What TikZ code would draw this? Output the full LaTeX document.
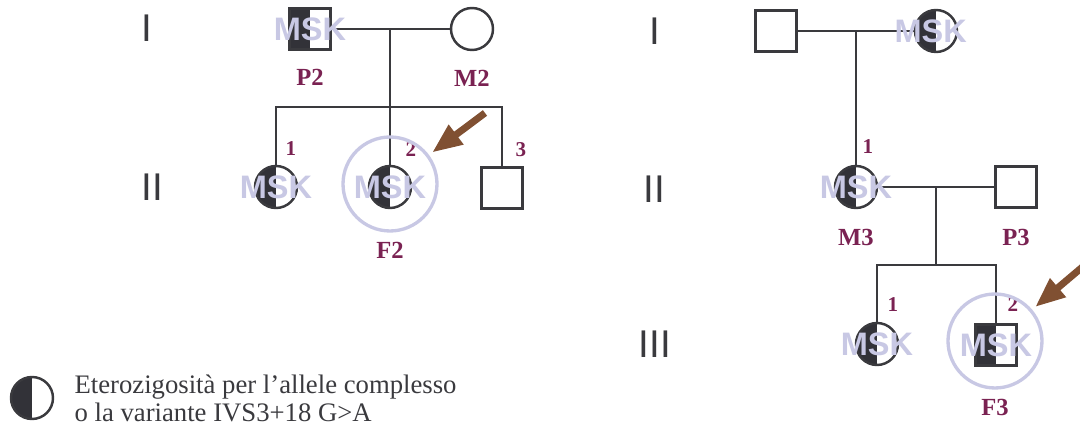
\documentclass[tikz,border=0pt]{standalone}
\usepackage{fontspec}
\setmainfont{Liberation Serif}
\setsansfont{Liberation Sans}
\usepackage{tikz}
\usetikzlibrary{
  arrows.meta,
  positioning
}
\definecolor{LineGray}{RGB}{58,58,62}
\definecolor{HalfDark}{RGB}{50,50,56}
\definecolor{TagPurple}{RGB}{122,34,82}
\definecolor{MarkLilac}{RGB}{200,200,228}
\definecolor{PointBrown}{RGB}{128,80,50}
\tikzset{
  male/.style={draw=LineGray,fill=white,line width=1.4pt,minimum size=0.82cm,inner sep=0pt},
  female/.style={circle,draw=LineGray,fill=white,line width=1.4pt,minimum size=0.84cm,inner sep=0pt},
  carrier/.style={path picture={\fill[HalfDark] (path picture bounding box.south west) rectangle (path picture bounding box.north);}},
  wmark/.style={text=MarkLilac,font=\sffamily\bfseries\fontsize{18.5}{18.5}\selectfont,inner sep=0pt},
  gen/.style={text=LineGray,font=\sffamily\fontsize{22}{22}\selectfont,inner sep=0pt},
  tag/.style={text=TagPurple,font=\bfseries\fontsize{14}{14}\selectfont,inner sep=0pt},
  idx/.style={text=TagPurple,font=\bfseries\fontsize{12}{12}\selectfont,inner sep=0pt},
  ring/.style={circle,draw=MarkLilac,line width=1.9pt,minimum size=1.88cm,inner sep=0pt},
  link/.style={draw=LineGray,line width=1.4pt},
  pointer/.style={draw=PointBrown,line width=0.14cm,-{Triangle[length=0.6cm,width=0.46cm]},shorten >=0.08cm},
  keytext/.style={text=LineGray,font=\fontsize{15.2}{16}\selectfont,align=left,inner sep=0pt}
}
\begin{document}
\begin{tikzpicture}[x=0.02cm,y=-0.02cm]
\clip (0,0) rectangle (1080,425);

% family 2
\node[gen] (g2i) at (147,28) {I};
\node[gen] (g2ii) at (152,187) {II};
\coordinate (fam2) at (390,29);
\coordinate (sib2) at (390,107);
\node[male,carrier] (p2) at (310,29) {};
\node[female] (m2) at (472,29) {};
\node[female,carrier] (ii1) at (276,187) {};
\node[female,carrier] (ii2) at (390,187) {};
\node[male] (ii3) at (502,188) {};
\draw[link] (p2) -- (m2);
\draw[link] (fam2) -- (ii2.north);
\draw[link] (ii1.north) |- (sib2) -| (ii3.north);
\node[wmark] (p2w) at (p2) {MSK};
\node[wmark] (ii1w) at (ii1) {MSK};
\node[wmark] (ii2w) at (ii2) {MSK};
\node[tag, below=3.7mm of p2] (p2t) {P2};
\node[tag, below=3.7mm of m2] (m2t) {M2};
\node[idx] (ii1n) at ([shift={(15,-38)}]ii1) {1};
\node[idx] (ii2n) at ([shift={(21,-37)}]ii2) {2};
\node[idx] (ii3n) at ([shift={(19,-38)}]ii3) {3};
\node[ring] (ring2) at (390,184) {};
\node[tag, below=1.8mm of ring2] (f2t) {F2};
\coordinate (tail2) at (485,113);
\draw[pointer] (tail2) -- (ring2);

% family 3
\node[gen] (g3i) at (655,31) {I};
\node[gen] (g3ii) at (654,189) {II};
\node[gen] (g3iii) at (655,344) {III};
\coordinate (fam1) at (856,31);
\coordinate (fam3) at (936,187);
\coordinate (sib3) at (936,265);
\node[male] (i1) at (776,31) {};
\node[female,carrier] (i2) at (936,31) {};
\node[female,carrier] (m3) at (856,187) {};
\node[male] (p3) at (1016,187) {};
\node[female,carrier] (iii1) at (877,344) {};
\node[male,carrier] (iii2) at (996,345) {};
\draw[link] (i1) -- (i2);
\draw[link] (fam1) -- (m3.north);
\draw[link] (m3) -- (p3);
\draw[link] (fam3) -- (sib3);
\draw[link] (iii1.north) |- (sib3) -| (iii2.north);
\node[wmark] (i2w) at ([xshift=-3]i2) {MSK};
\node[wmark] (m3w) at (m3) {MSK};
\node[wmark] (iii1w) at (iii1) {MSK};
\node[wmark] (iii2w) at (iii2) {MSK};
\node[tag, below=4mm of m3] (m3t) {M3};
\node[tag, below=4mm of p3] (p3t) {P3};
\node[idx] (m3n) at ([shift={(12,-40)}]m3) {1};
\node[idx] (iii1n) at ([shift={(16,-39)}]iii1) {1};
\node[idx] (iii2n) at ([shift={(17,-40)}]iii2) {2};
\node[ring] (ring3) at (995,341) {};
\node[tag, below=1.9mm of ring3] (f3t) {F3};
\coordinate (tail3) at (1086,264);
\draw[pointer] (tail3) -- (ring3);

% key
\node[female,carrier] (key) at (32,398) {};
\node[keytext, right=4mm of key] (keyt) {Eterozigosità per l’allele complesso\\o la variante IVS3+18 G>A};
\end{tikzpicture}
\end{document}
